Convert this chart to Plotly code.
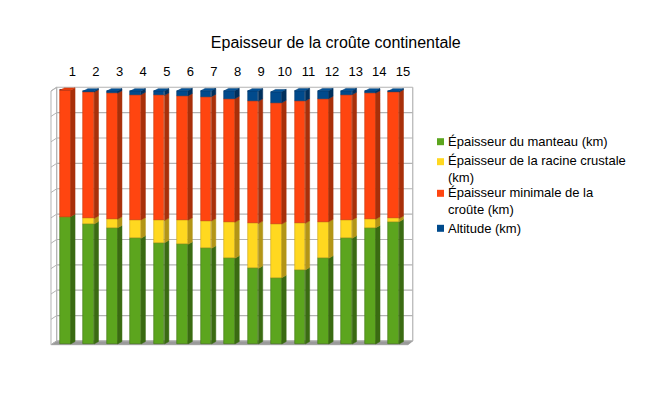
import plotly.graph_objects as go

# ---------------- data ----------------
categories = list(range(1, 16))
tick_labels = [str(c) for c in categories]
manteau = [50.2, 47.3, 45.8, 41.7, 39.9, 39.3, 37.7, 33.8, 29.8, 26.1, 29.2, 33.8, 41.7, 45.8, 48.2]
racine = [0, 2.2, 3.4, 7.2, 8.8, 9.5, 10.8, 14.2, 17.7, 21.2, 18.4, 14.4, 7.2, 3.4, 1.3]
croute = [49.8, 49.8, 49.7, 49.4, 49.3, 49.0, 49.0, 48.7, 48.2, 47.8, 48.2, 48.5, 49.4, 49.7, 49.8]
altitude = [0, 0.4, 0.8, 1.4, 1.7, 2.0, 2.3, 3.1, 4.0, 4.3, 4.0, 3.1, 1.5, 0.8, 0.4]
series_names = [
    "Épaisseur du manteau (km)",
    "Épaisseur de la racine crustale<br>(km)",
    "Épaisseur minimale de la<br>croûte (km)",
    "Altitude (km)",
]
title_text = "Epaisseur de la croûte continentale"

# ---------------- style ----------------
front = ["#5ca51e", "#ffd820", "#ff4510", "#004a8c"]
side = ["#3a6b12", "#b39516", "#a8300a", "#002f5c"]
edge = ["#3f7414", "#c9a514", "#c8360a", "#00386a"]
topc = ["#529419", "#e6c21c", "#e83c0c", "#005299"]
FONT = "Liberation Sans, Arial, sans-serif"

W, H = 666, 402
L, R, T, B = 40, 246, 80, 42
bw = 0.456          # bar front width (x units)
dx, dy = 0.1875, 0.95   # 3D depth offset (x units, y units)
xa, xb = -0.0784, 16.119
ya, yb = -6.307, 104.06

series = [manteau, racine, croute, altitude]
n = len(categories)

fig = go.Figure()

# front faces
bases = [0.0] * n
seg_bounds = []
for k, vals in enumerate(series):
    fig.add_trace(go.Bar(
        x=categories, y=vals, base=bases[:], width=bw,
        marker=dict(color=front[k], line=dict(color=edge[k], width=0.6)),
        showlegend=False, hoverinfo="skip",
    ))
    seg_bounds.append([(bases[i], bases[i] + vals[i]) for i in range(n)])
    bases = [bases[i] + vals[i] for i in range(n)]

# side faces
for k in range(len(series)):
    xs, ys = [], []
    for i, c in enumerate(categories):
        b0, b1 = seg_bounds[k][i]
        if b1 - b0 <= 0:
            continue
        xr = c + bw / 2
        xs += [xr, xr + dx, xr + dx, xr, xr, None]
        ys += [b0, b0 + dy, b1 + dy, b1, b0, None]
    fig.add_trace(go.Scatter(
        x=xs, y=ys, mode="lines", fill="toself", fillcolor=side[k],
        line=dict(color=side[k], width=0.5), showlegend=False, hoverinfo="skip",
    ))

# top faces
xs_t = {k: [] for k in range(4)}
ys_t = {k: [] for k in range(4)}
for i, c in enumerate(categories):
    top_k = max(k for k in range(4) if series[k][i] > 0)
    t = bases[i]
    xl, xr = c - bw / 2, c + bw / 2
    xs_t[top_k] += [xl, xl + dx, xr + dx, xr, xl, None]
    ys_t[top_k] += [t, t + dy, t + dy, t, t, None]
for k in range(4):
    if xs_t[k]:
        fig.add_trace(go.Scatter(
            x=xs_t[k], y=ys_t[k], mode="lines", fill="toself", fillcolor=topc[k],
            line=dict(color=edge[k], width=0.5), showlegend=False, hoverinfo="skip",
        ))

# ---------------- walls / floor ----------------
grid_c = "#b3b3b3"
wl, wr = 0.633, 15.81      # back wall x extent
sw = 0.39                  # side wall front x
wb = 1.2                   # back wall vertical offset
sf = -0.3                  # side wall front vertical offset
shapes = []
# side wall
shapes.append(dict(type="path", xref="x", yref="y", layer="below",
                   path=f"M{sw},{sf} L{wl},{wb} L{wl},{100+wb} L{sw},{100+sf} Z",
                   fillcolor="white", line=dict(color=grid_c, width=1)))
# floor
shapes.append(dict(type="path", xref="x", yref="y", layer="below",
                   path=f"M{sw},{sf} L{wr-0.2},{sf} L{wr},{wb} L{wl},{wb} Z",
                   fillcolor="#9a9a9a", line=dict(color="#8c8c8c", width=0.5)))
for g in range(0, 101, 10):
    shapes.append(dict(type="line", xref="x", yref="y", layer="below",
                       x0=wl, x1=wr, y0=g + wb, y1=g + wb, line=dict(color=grid_c, width=1.2)))
    shapes.append(dict(type="line", xref="x", yref="y", layer="below",
                       x0=sw, x1=wl, y0=g + sf, y1=g + wb, line=dict(color=grid_c, width=1)))
shapes.append(dict(type="line", xref="x", yref="y", layer="below",
                   x0=wr, x1=wr, y0=wb, y1=100 + wb, line=dict(color=grid_c, width=1.2)))
shapes.append(dict(type="line", xref="x", yref="y", layer="below",
                   x0=wl, x1=wl, y0=wb, y1=100 + wb, line=dict(color=grid_c, width=1)))

# ---------------- custom legend ----------------
def px2paper(px, py):
    return (px - L) / (W - L - R), (H - B - py) / (H - T - B)

legend_first_line = [141.7, 161.7, 193.3, 228.3]
annotations = []
for k, name in enumerate(series_names):
    nlines = name.count("<br>") + 1
    cy = legend_first_line[k]
    x0, y0 = px2paper(437, cy - 3.5)
    x1, y1 = px2paper(444, cy + 3.5)
    shapes.append(dict(type="rect", xref="paper", yref="paper",
                       x0=x0, x1=x1, y0=y0, y1=y1, fillcolor=front[k],
                       line=dict(width=0)))
    tx, ty = px2paper(446, cy + (nlines - 1) * 15.5 / 2)
    annotations.append(dict(xref="paper", yref="paper", x=tx, y=ty,
                            xanchor="left", yanchor="middle", align="left",
                            showarrow=False, text=name,
                            font=dict(family=FONT, size=13, color="#000000")))

fig.update_layout(
    width=W, height=H,
    margin=dict(l=L, r=R, t=T, b=B, autoexpand=False),
    paper_bgcolor="white", plot_bgcolor="white",
    barmode="overlay", bargap=0,
    showlegend=False,
    title=dict(text=title_text, x=335.8 / W, y=1 - 42 / H, xanchor="center",
               yanchor="middle", xref="container", yref="container",
               font=dict(family=FONT, size=16, color="#000000")),
    xaxis=dict(range=[xa, xb], side="top", showgrid=False, zeroline=False,
               showline=False, ticks="",
               tickvals=[c * 1.0068 + 0.29 for c in categories], ticktext=tick_labels,
               tickfont=dict(family=FONT, size=13, color="#000000"),
               fixedrange=True, automargin=False),
    yaxis=dict(range=[ya, yb], showgrid=False, zeroline=False, showline=False,
               showticklabels=False, ticks="", fixedrange=True, automargin=False),
    shapes=shapes,
    annotations=annotations,
)

fig.write_html("out.html")
